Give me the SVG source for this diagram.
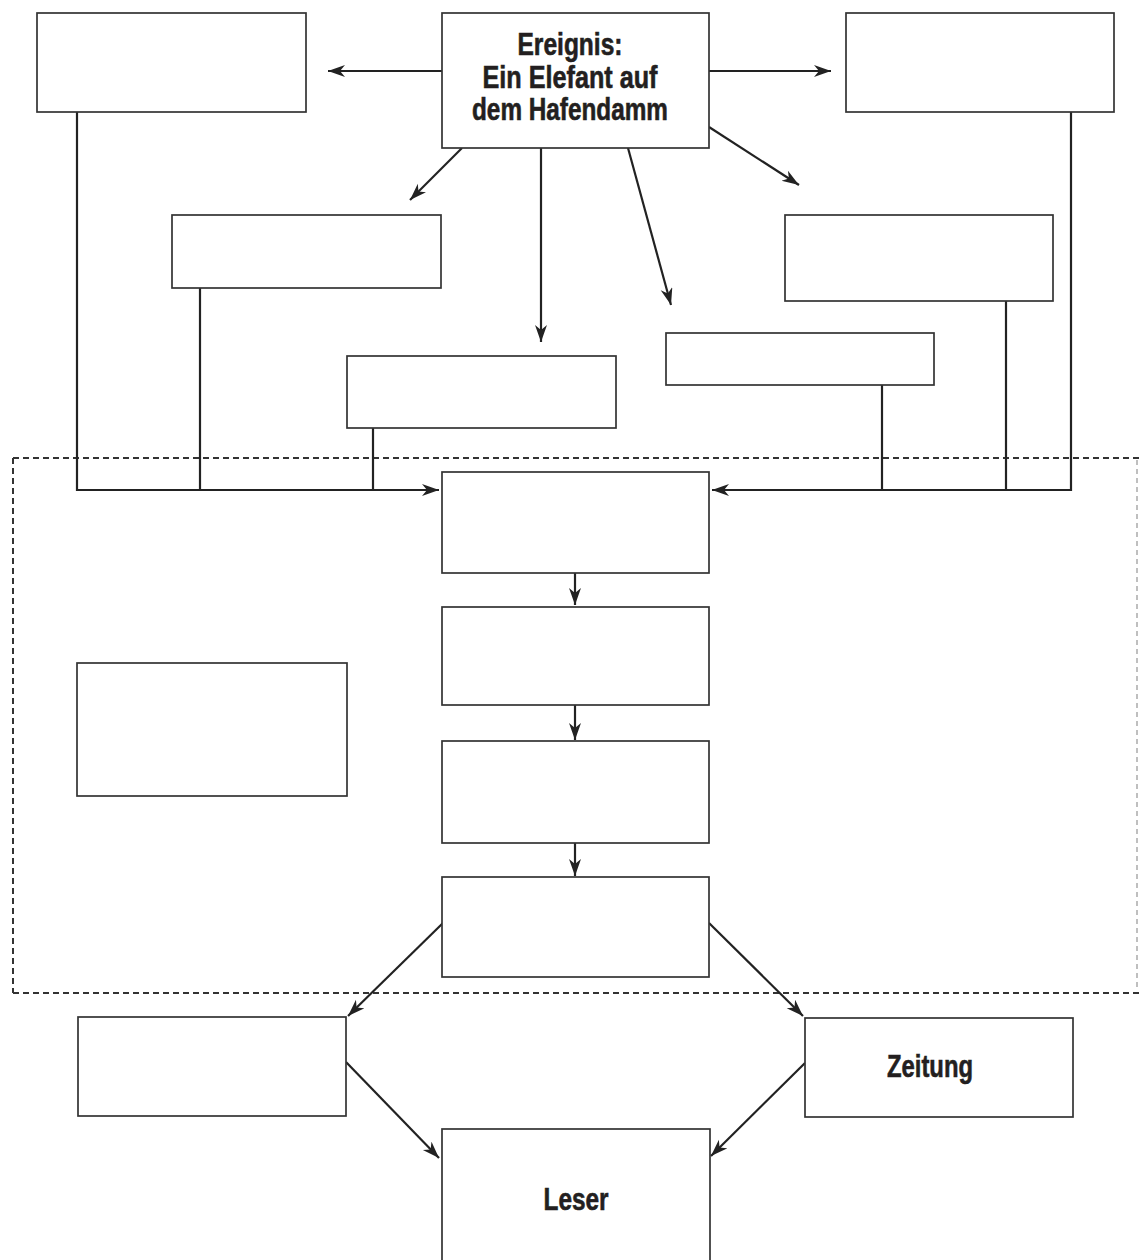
<svg xmlns="http://www.w3.org/2000/svg" width="1139" height="1260" viewBox="0 0 1139 1260">
<style>
.box{fill:#fff;stroke:#333;stroke-width:1.7}
.ln{fill:none;stroke:#222;stroke-width:2.2}
.dash{fill:none;stroke:#333;stroke-width:2;stroke-dasharray:6 4}
.lbl{font-family:"Liberation Sans",Arial,sans-serif;font-weight:bold;font-size:31px;fill:#231f20;stroke:#231f20;stroke-width:0.6;text-anchor:middle}
</style>
<defs>
<marker id="ah" markerUnits="userSpaceOnUse" markerWidth="20" markerHeight="14" refX="17" refY="6" orient="auto">
<path d="M0,0 L17,6 L0,12 L5,6 z" fill="#222"/>
</marker>
</defs>
<rect width="1139" height="1260" fill="#fff"/>
<g id="region">
<path class="dash" d="M13,458 H1139"/>
<path class="dash" d="M13,458 V993"/>
<path class="dash" d="M13,993 H1139"/>
<path d="M1137,460 V990" fill="none" stroke="#aaa" stroke-width="1.5" stroke-dasharray="5 4"/>
</g>
<g id="connectors">
<line class="ln" x1="442" y1="71" x2="328" y2="71" marker-end="url(#ah)"/>
<line class="ln" x1="709" y1="71" x2="831" y2="71" marker-end="url(#ah)"/>
<line class="ln" x1="462" y1="148" x2="410" y2="200" marker-end="url(#ah)"/>
<line class="ln" x1="541" y1="148" x2="541" y2="342" marker-end="url(#ah)"/>
<line class="ln" x1="628" y1="148" x2="671" y2="305" marker-end="url(#ah)"/>
<line class="ln" x1="709" y1="127" x2="799" y2="185" marker-end="url(#ah)"/>
<path class="ln" d="M77,112 V490 H439" marker-end="url(#ah)"/>
<path class="ln" d="M200,288 V490"/>
<path class="ln" d="M373,428 V490"/>
<path class="ln" d="M1071,112 V490 H712" marker-end="url(#ah)"/>
<path class="ln" d="M1006,301 V490"/>
<path class="ln" d="M882,385 V490"/>
<line class="ln" x1="575" y1="573" x2="575" y2="605" marker-end="url(#ah)"/>
<line class="ln" x1="575" y1="705" x2="575" y2="740" marker-end="url(#ah)"/>
<line class="ln" x1="575" y1="843" x2="575" y2="876" marker-end="url(#ah)"/>
<line class="ln" x1="443" y1="923" x2="348" y2="1016" marker-end="url(#ah)"/>
<line class="ln" x1="709" y1="923" x2="803" y2="1016" marker-end="url(#ah)"/>
<line class="ln" x1="346" y1="1062" x2="439" y2="1158" marker-end="url(#ah)"/>
<line class="ln" x1="805" y1="1063" x2="711" y2="1156" marker-end="url(#ah)"/>
</g>
<g id="n-ereignis">
<rect class="box" x="442" y="13" width="267" height="135"/>
<text class="lbl" x="570" y="55" textLength="105" lengthAdjust="spacingAndGlyphs">Ereignis:</text>
<text class="lbl" x="570" y="88" textLength="175" lengthAdjust="spacingAndGlyphs">Ein Elefant auf</text>
<text class="lbl" x="570" y="120" textLength="196" lengthAdjust="spacingAndGlyphs">dem Hafendamm</text>
</g>
<g id="n-a"><rect class="box" x="37" y="13" width="269" height="99"/></g>
<g id="n-b"><rect class="box" x="846" y="13" width="268" height="99"/></g>
<g id="n-c"><rect class="box" x="172" y="215" width="269" height="73"/></g>
<g id="n-d"><rect class="box" x="785" y="215" width="268" height="86"/></g>
<g id="n-e"><rect class="box" x="347" y="356" width="269" height="72"/></g>
<g id="n-f"><rect class="box" x="666" y="333" width="268" height="52"/></g>
<g id="n-g"><rect class="box" x="442" y="472" width="267" height="101"/></g>
<g id="n-h"><rect class="box" x="442" y="607" width="267" height="98"/></g>
<g id="n-i"><rect class="box" x="442" y="741" width="267" height="102"/></g>
<g id="n-j"><rect class="box" x="442" y="877" width="267" height="100"/></g>
<g id="n-k"><rect class="box" x="77" y="663" width="270" height="133"/></g>
<g id="n-l"><rect class="box" x="78" y="1017" width="268" height="99"/></g>
<g id="n-zeitung">
<rect class="box" x="805" y="1018" width="268" height="99"/>
<text class="lbl" x="930" y="1077" textLength="86" lengthAdjust="spacingAndGlyphs">Zeitung</text>
</g>
<g id="n-leser">
<rect class="box" x="442" y="1129" width="268" height="140"/>
<text class="lbl" x="576" y="1210" textLength="65" lengthAdjust="spacingAndGlyphs">Leser</text>
</g>
</svg>
